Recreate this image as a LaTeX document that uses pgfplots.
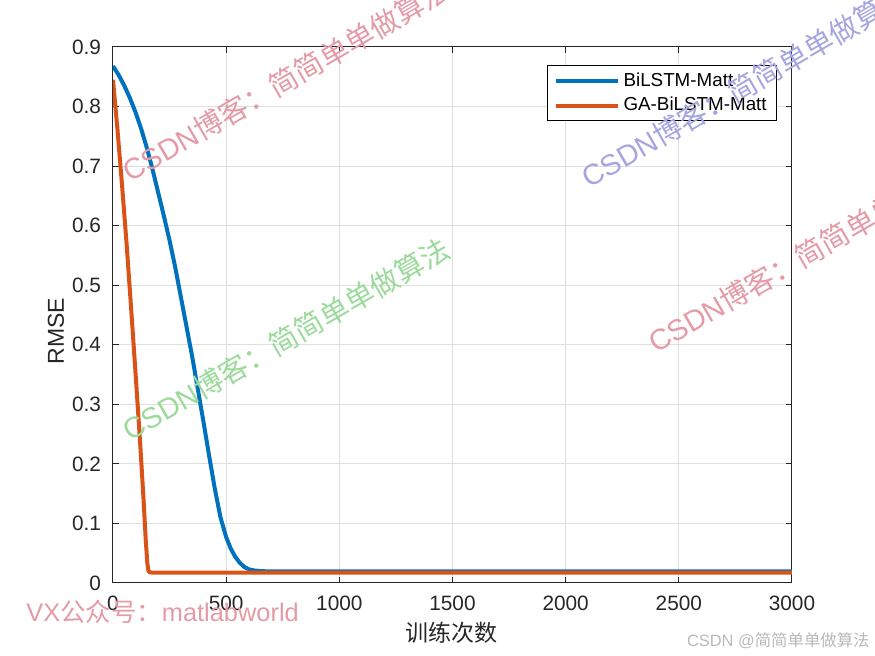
\documentclass[border=0pt]{standalone}
\usepackage{pgfplots}
\pgfplotsset{compat=1.18}
\usepackage{fontspec}
\setmainfont{Liberation Sans}
\newfontfamily\cjk{Noto Sans CJK SC}
\definecolor{mblue}{rgb}{0,0.447,0.741}
\definecolor{morange}{rgb}{0.851,0.325,0.098}
\definecolor{wmpink}{RGB}{228,155,165}
\definecolor{wmpurple}{RGB}{165,165,225}
\definecolor{wmgreen}{RGB}{155,218,155}
\definecolor{wmgray}{RGB}{185,185,185}
\definecolor{gridgray}{RGB}{223,223,223}

\begin{document}
\begin{tikzpicture}
\path[use as bounding box] (0,0) rectangle (437.5pt,-328pt);
\begin{axis}[
  at={(56.5pt,-291.5pt)}, anchor=south west,
  scale only axis, width=339.5pt, height=268pt,
  xmin=0, xmax=3000, ymin=0, ymax=0.9,
  xtick={0,500,1000,1500,2000,2500,3000},
  ytick={0,0.1,0.2,0.3,0.4,0.5,0.6,0.7,0.8,0.9},
  yticklabels={0,0.1,0.2,0.3,0.4,0.5,0.6,0.7,0.8,0.9},
  scaled ticks=false,
  /pgf/number format/1000 sep={},
  /pgf/number format/assume math mode=true,
  grid=major, major grid style={gridgray, line width=0.5pt},
  tick align=inside, tick pos=both, major tick length=3pt,
  axis line style={line width=0.5pt, black!85},
  tick style={black!85, line width=0.5pt},
  tick label style={font=\fontsize{10.4}{12}\selectfont, black!85},
  xticklabel style={yshift=-3pt},
  yticklabel style={xshift=-2.5pt},
  xlabel={\cjk 训练次数},
  ylabel={RMSE},
  label style={font=\fontsize{11.5}{13}\selectfont, black!85},
  xlabel style={at={(axis description cs:0.499,-0.0933)}, anchor=center},
  ylabel style={at={(axis description cs:-0.084,0.47)}, anchor=center},
  legend style={at={(0.978,0.966)}, anchor=north east,
    font=\fontsize{9.4}{11}\selectfont, draw=black, fill=white,
    inner xsep=3pt, inner ysep=1.5pt, row sep=0pt},
  legend cell align=left,
  legend image code/.code={\draw[#1] (0pt,0pt) -- (31pt,0pt);},
]
\addplot[mblue, line width=2pt, line join=round] coordinates {
(0,0.868) (25,0.853) (50,0.835) (75,0.814) (100,0.790) (125,0.762)
(150,0.730) (175,0.694) (200,0.655) (225,0.616) (250,0.575) (275,0.530)
(300,0.480) (325,0.430) (350,0.380) (375,0.325) (400,0.270) (425,0.213)
(450,0.158) (475,0.110) (500,0.077) (520,0.058) (540,0.044) (560,0.034)
(580,0.027) (600,0.023) (625,0.0210) (660,0.0198) (700,0.0195) (3000,0.0195)
};
\addlegendentry{BiLSTM-Matt}
\addplot[morange, line width=2pt, line join=round] coordinates {
(0,0.845) (20,0.760) (40,0.668) (60,0.570) (80,0.462) (100,0.350)
(120,0.235) (135,0.140) (145,0.070) (152,0.032) (157,0.020) (163,0.0178)
(175,0.0175) (3000,0.0175)
};
\addlegendentry{GA-BiLSTM-Matt}
\end{axis}
\begin{scope}[x=0.5pt,y=-0.5pt]
\node[wmpink, rotate=30, anchor=base west, inner sep=0pt, font=\fontsize{14.5}{15}\selectfont] at (130,183) {CSDN{\cjk 博客：简简单单做算法}};
\node[wmgreen, rotate=30, anchor=base west, inner sep=0pt, font=\fontsize{14.5}{15}\selectfont] at (130,442) {CSDN{\cjk 博客：简简单单做算法}};
\node[wmpurple, rotate=30, anchor=base west, inner sep=0pt, font=\fontsize{14.5}{15}\selectfont] at (589,189) {CSDN{\cjk 博客：简简单单做算法}};
\node[wmpink, rotate=30, anchor=base west, inner sep=0pt, font=\fontsize{14.5}{15}\selectfont] at (656,354) {CSDN{\cjk 博客：简简单单做算法}};
\node[wmpink, anchor=base west, inner sep=0pt, font=\fontsize{12.7}{14}\selectfont] at (26,622) {VX{\cjk 公众号：}matlabworld};
\node[wmgray, anchor=base east, inner sep=0pt, font=\fontsize{8.2}{10}\selectfont] at (870,647) {CSDN @{\cjk 简简单单做算法}};
\end{scope}
\end{tikzpicture}
\end{document}
